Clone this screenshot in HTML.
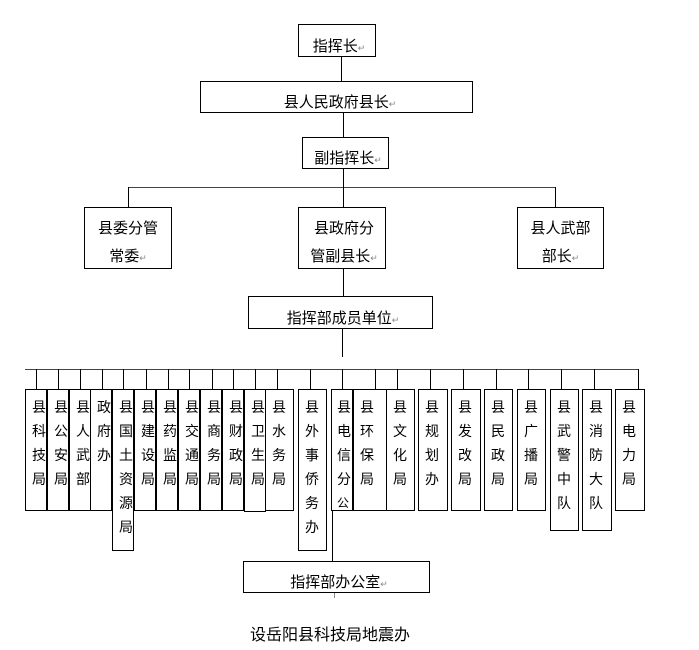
<!DOCTYPE html>
<html><head><meta charset="utf-8">
<style>
body{margin:0;background:#fff;}
#c{position:relative;width:699px;height:650px;overflow:hidden;font-family:"Liberation Sans","Noto Sans CJK SC",sans-serif;color:#000;}
.b{position:absolute;border:1px solid #000;box-sizing:border-box;background:#fff;}
.h{position:absolute;font-size:15px;text-align:center;white-space:nowrap;}
.r{color:#888;font-size:9px;}
.l{position:absolute;background:#000;}
.v{position:absolute;border:1px solid #000;box-sizing:border-box;background:#fff;font-size:14px;line-height:24px;padding:5px 0 0 6px;width:22px;}
.v span{display:block;}
</style></head><body><div id="c">
<div class="b" style="left:298px;top:24px;width:78px;height:33px"></div>
<div class="h" style="left:298px;top:35px;width:82px">指挥长<span class="r">↵</span></div>
<div class="l" style="left:341px;top:57px;width:1px;height:24px"></div>
<div class="b" style="left:200px;top:81px;width:273px;height:32px"></div>
<div class="h" style="left:200px;top:91px;width:280px">县人民政府县长<span class="r">↵</span></div>
<div class="l" style="left:343px;top:113px;width:1px;height:24px"></div>
<div class="b" style="left:302px;top:137px;width:87px;height:32px"></div>
<div class="h" style="left:302px;top:147px;width:92px">副指挥长<span class="r">↵</span></div>
<div class="l" style="left:128px;top:187px;width:428px;height:1px;background:#444"></div>
<div class="l" style="left:128px;top:187px;width:1px;height:20px"></div>
<div class="l" style="left:343px;top:169px;width:1px;height:38px"></div>
<div class="l" style="left:555px;top:187px;width:1px;height:20px"></div>
<div class="b" style="left:84px;top:207px;width:88px;height:62px"></div>
<div class="h" style="left:84px;top:215px;width:88px;line-height:28px">县委分管<br>常委<span class="r">↵</span></div>
<div class="b" style="left:298px;top:207px;width:88px;height:62px"></div>
<div class="h" style="left:298px;top:215px;width:92px;line-height:28px">县政府分<br>管副县长<span class="r">↵</span></div>
<div class="b" style="left:517px;top:207px;width:87px;height:62px"></div>
<div class="h" style="left:517px;top:215px;width:87px;line-height:28px">县人武部<br>部长<span class="r">↵</span></div>
<div class="l" style="left:343px;top:269px;width:1px;height:27px"></div>
<div class="b" style="left:248px;top:296px;width:185px;height:33px"></div>
<div class="h" style="left:248px;top:307px;width:190px">指挥部成员单位<span class="r">↵</span></div>
<div class="l" style="left:342px;top:329px;width:1px;height:28px"></div>
<div class="l" style="left:25px;top:369px;width:614px;height:1px;background:#444"></div>
<div class="l" style="left:36px;top:369px;width:1px;height:20px"></div>
<div class="l" style="left:58px;top:369px;width:1px;height:20px"></div>
<div class="l" style="left:80px;top:369px;width:1px;height:20px"></div>
<div class="l" style="left:102px;top:369px;width:1px;height:20px"></div>
<div class="l" style="left:123px;top:369px;width:1px;height:20px"></div>
<div class="l" style="left:146px;top:369px;width:1px;height:20px"></div>
<div class="l" style="left:168px;top:369px;width:1px;height:20px"></div>
<div class="l" style="left:189px;top:369px;width:1px;height:20px"></div>
<div class="l" style="left:212px;top:369px;width:1px;height:20px"></div>
<div class="l" style="left:233px;top:369px;width:1px;height:20px"></div>
<div class="l" style="left:255px;top:369px;width:1px;height:20px"></div>
<div class="l" style="left:277px;top:369px;width:1px;height:20px"></div>
<div class="l" style="left:310px;top:369px;width:1px;height:20px"></div>
<div class="l" style="left:342px;top:369px;width:1px;height:20px"></div>
<div class="l" style="left:375px;top:369px;width:1px;height:20px"></div>
<div class="l" style="left:397px;top:369px;width:1px;height:20px"></div>
<div class="l" style="left:430px;top:369px;width:1px;height:20px"></div>
<div class="l" style="left:463px;top:369px;width:1px;height:20px"></div>
<div class="l" style="left:496px;top:369px;width:1px;height:20px"></div>
<div class="l" style="left:528px;top:369px;width:1px;height:20px"></div>
<div class="l" style="left:561px;top:369px;width:1px;height:20px"></div>
<div class="l" style="left:594px;top:369px;width:1px;height:20px"></div>
<div class="l" style="left:638px;top:369px;width:1px;height:20px"></div>

<div class="v" style="left:25px;top:389px;height:122px"><span>县</span><span>科</span><span>技</span><span>局</span></div>
<div class="v" style="left:47px;top:389px;height:122px"><span>县</span><span>公</span><span>安</span><span>局</span></div>
<div class="v" style="left:69px;top:389px;height:122px"><span>县</span><span>人</span><span>武</span><span>部</span></div>
<div class="v" style="left:90px;top:389px;height:122px"><span>政</span><span>府</span><span>办</span></div>
<div class="v" style="left:112px;top:389px;height:162px"><span>县</span><span>国</span><span>土</span><span>资</span><span>源</span><span>局</span></div>
<div class="v" style="left:134px;top:389px;height:122px"><span>县</span><span>建</span><span>设</span><span>局</span></div>
<div class="v" style="left:156px;top:389px;height:122px"><span>县</span><span>药</span><span>监</span><span>局</span></div>
<div class="v" style="left:178px;top:389px;height:122px"><span>县</span><span>交</span><span>通</span><span>局</span></div>
<div class="v" style="left:200px;top:389px;height:122px"><span>县</span><span>商</span><span>务</span><span>局</span></div>
<div class="v" style="left:222px;top:389px;height:122px"><span>县</span><span>财</span><span>政</span><span>局</span></div>
<div class="v" style="left:244px;top:389px;height:123px"><span>县</span><span>卫</span><span>生</span><span>局</span></div>
<div class="v" style="left:265px;top:389px;height:122px;width:29px"><span>县</span><span>水</span><span>务</span><span>局</span></div>
<div class="v" style="left:298px;top:389px;height:162px;width:29px"><span>县</span><span>外</span><span>事</span><span>侨</span><span>务</span><span>办</span></div>
<div class="l" style="left:332px;top:500px;width:1px;height:61px"></div>
<div class="v" style="left:331px;top:389px;height:122px;padding-left:5px"><span>县</span><span>电</span><span>信</span><span>分</span><span style="font-size:12px">公</span></div>
<div class="v" style="left:353px;top:389px;height:122px;width:34px"><span>县</span><span>环</span><span>保</span><span>局</span></div>
<div class="v" style="left:386px;top:389px;height:122px;width:29px"><span>县</span><span>文</span><span>化</span><span>局</span></div>
<div class="v" style="left:418px;top:389px;height:122px;width:30px"><span>县</span><span>规</span><span>划</span><span>办</span></div>
<div class="v" style="left:451px;top:389px;height:122px;width:30px"><span>县</span><span>发</span><span>改</span><span>局</span></div>
<div class="v" style="left:484px;top:389px;height:122px;width:29px"><span>县</span><span>民</span><span>政</span><span>局</span></div>
<div class="v" style="left:517px;top:389px;height:122px;width:29px"><span>县</span><span>广</span><span>播</span><span>局</span></div>
<div class="v" style="left:550px;top:389px;height:142px;width:29px"><span>县</span><span>武</span><span>警</span><span>中</span><span>队</span></div>
<div class="v" style="left:582px;top:389px;height:142px;width:30px"><span>县</span><span>消</span><span>防</span><span>大</span><span>队</span></div>
<div class="v" style="left:615px;top:389px;height:122px;width:30px"><span>县</span><span>电</span><span>力</span><span>局</span></div>

<div class="b" style="left:243px;top:561px;width:187px;height:32px"></div>
<div class="h" style="left:243px;top:571px;width:192px">指挥部办公室<span class="r">↵</span></div>
<div class="l" style="left:334px;top:593px;width:1px;height:5px;background:#888"></div>
<div class="h" style="left:230px;top:621px;width:200px;font-size:16px">设岳阳县科技局地震办</div>
</div></body></html>
